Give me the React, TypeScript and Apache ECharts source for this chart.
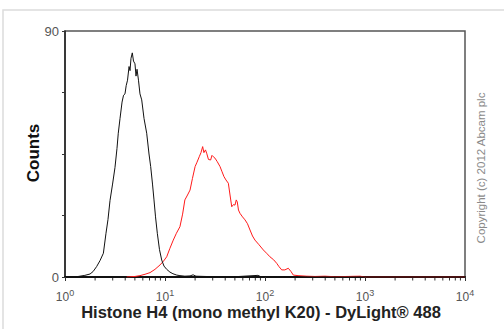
import React, { useEffect, useRef } from "react";
import * as echarts from "echarts";

// Fluorescence intensity (x, log scale) and counts (y)
const blackX = [1.26, 1.41, 1.58, 1.78, 1.91, 2.07, 2.24, 2.42, 2.57, 2.69, 2.82, 2.99, 3.16, 3.31, 3.41, 3.55, 3.72, 3.85, 3.98, 4.09, 4.22, 4.37, 4.47, 4.57, 4.71, 4.84, 5.01, 5.13, 5.25, 5.43, 5.62, 5.85, 6.17, 6.56, 6.92, 7.19, 7.5, 7.76, 8.04, 8.38, 8.81, 9.27, 9.77, 10.4, 11.2, 12.0, 13.1, 14.1, 15.8, 17.8, 19.1, 20.4, 25.1, 31.6, 50, 85, 91, 158, 316, 1000, 10000];
const blackY = [0, 0.3, 0.6, 1.1, 2.0, 3.8, 6.0, 8.7, 16, 21, 28, 34, 40, 47, 52.6, 58, 64, 66.5, 67, 70, 72, 77, 75.5, 80, 82, 79, 78, 73.5, 76, 72, 67, 64.8, 58, 52.6, 45, 40.4, 34, 28.2, 22, 16, 10, 6.2, 4, 2.8, 1.8, 1.2, 0.7, 0.5, 0.3, 0.4, 0.8, 0.3, 0.2, 0.1, 0.1, 0.6, 0.1, 0, 0, 0, 0];

const redX = [4.14, 5.01, 5.62, 6.31, 7.08, 7.94, 8.91, 9.66, 10.4, 11.2, 12.1, 13.0, 14.1, 15.0, 15.8, 16.8, 17.8, 18.8, 20.0, 20.9, 22.0, 22.9, 23.8, 24.5, 25.4, 26.1, 27.2, 28.6, 29.5, 30.4, 31.6, 33.3, 35.5, 37.2, 38.9, 40.7, 43.0, 44.7, 46.5, 48.4, 50.1, 51.6, 52.8, 54.3, 56.2, 59.6, 63.1, 66.8, 70.8, 75.0, 79.4, 87.1, 96.2, 105, 112, 122, 131, 138, 147, 158, 171, 182, 192, 214, 261, 316, 398, 501, 891, 1000, 1585, 10000];
const redY = [0, 0.2, 0.5, 1.0, 1.6, 2.8, 4.4, 5.8, 7.4, 10.5, 13.5, 16, 18.4, 23, 28.2, 30, 31.8, 36, 40.4, 42, 44, 45.5, 47.7, 45.5, 46.5, 45.3, 43, 42.8, 44.5, 44, 43.5, 42.2, 40.4, 38.5, 36.7, 35.5, 34.3, 30, 25.7, 26.5, 26.3, 28.2, 27.5, 24.5, 23.3, 22, 20.9, 19.5, 17.2, 15, 13.5, 11.8, 9.9, 8.5, 7.4, 6.3, 5, 3.8, 2.6, 2.6, 3.2, 2.0, 0.7, 0.5, 0.3, 0.2, 0.3, 0.1, 0.3, 0, 0, 0];

const xTickExponents = ["0", "1", "2", "3", "4"];
const yTickLabels = ["0", "90"];
const minorMultipliers = [2, 3, 4, 5, 6, 7, 8, 9];
const decades = [1, 10, 100, 1000];

const xTitle = "Histone H4 (mono methyl K20) - DyLight® 488";
const yTitle = "Counts";
const copyright = "Copyright (c) 2012 Abcam plc";

export default function App() {
  const ref = useRef<HTMLDivElement>(null);
  useEffect(() => {
    if (!ref.current) return;
    const chart = echarts.init(ref.current, null, { renderer: "svg" });
    const minorTicks: number[][] = [];
    decades.forEach((d) => minorMultipliers.forEach((m) => minorTicks.push([d * m, 0])));
    chart.setOption({
      animation: false,
      backgroundColor: "#fff",
      grid: {
        left: 65,
        right: 39,
        top: 31,
        bottom: 52,
        show: true,
        borderColor: "#555",
        borderWidth: 1.5,
      },
      xAxis: {
        type: "log",
        logBase: 10,
        min: 1,
        max: 10000,
        axisLine: { show: true, onZero: false, lineStyle: { color: "#111", width: 2 } },
        axisTick: { show: true, length: 4, lineStyle: { color: "#333" } },
        splitLine: { show: false },
        axisLabel: {
          margin: 11,
          formatter: (v: number) => {
            const i = Math.round(Math.log10(v));
            return `{b|10}{s|${xTickExponents[i]}}`;
          },
          rich: {
            b: { fontFamily: "Liberation Sans, Arial", fontSize: 12, color: "#555" },
            s: { fontFamily: "Liberation Sans, Arial", fontSize: 9, color: "#555", padding: [0, 0, 9, 0] },
          },
        },
      },
      yAxis: {
        type: "value",
        min: 0,
        max: 90,
        interval: 22.5,
        axisLine: { show: true, lineStyle: { color: "#222", width: 1.5 } },
        axisTick: { show: true, length: 3, lineStyle: { color: "#333" } },
        splitLine: { show: false },
        axisLabel: {
          margin: 6,
          color: "#555",
          fontFamily: "Liberation Sans, Arial",
          fontSize: 13,
          formatter: (v: number) => (v === 0 ? yTickLabels[0] : v === 90 ? yTickLabels[1] : ""),
        },
      },
      series: [
        {
          type: "line",
          data: blackX.map((x, i) => [x, blackY[i]]),
          showSymbol: false,
          lineStyle: { color: "#111", width: 1 },
          z: 3,
        },
        {
          type: "line",
          data: redX.map((x, i) => [x, redY[i]]),
          showSymbol: false,
          lineStyle: { color: "#ff1a1a", width: 1 },
          z: 2,
        },
        {
          type: "custom",
          silent: true,
          clip: false,
          data: minorTicks,
          encode: { x: 0, y: 1 },
          renderItem: (params: any, api: any) => {
            const p = api.coord([api.value(0), 0]);
            return {
              type: "line",
              shape: { x1: p[0], y1: p[1] + 1, x2: p[0], y2: p[1] + 3.5 },
              style: { stroke: "#333", lineWidth: 1 },
            };
          },
        },
      ],
      graphic: [
        {
          type: "rect",
          shape: { x: 3, y: 10, width: 560, height: 400 },
          style: { fill: "none", stroke: "#dcdcdc", lineWidth: 1.5 },
          silent: true,
          z: -1,
        },
        {
          type: "text",
          x: 261,
          y: 312,
          style: {
            text: xTitle,
            fontFamily: "Liberation Sans, Arial",
            fontWeight: "bold",
            fontSize: 16.5,
            fill: "#222",
            align: "center",
            verticalAlign: "middle",
          },
        },
        {
          type: "text",
          x: 33,
          y: 153,
          rotation: Math.PI / 2,
          style: {
            text: yTitle,
            fontFamily: "Liberation Sans, Arial",
            fontWeight: "bold",
            fontSize: 17,
            fill: "#111",
            align: "center",
            verticalAlign: "middle",
          },
        },
        {
          type: "text",
          x: 481,
          y: 168,
          rotation: Math.PI / 2,
          style: {
            text: copyright,
            fontFamily: "Liberation Sans, Arial",
            fontSize: 11.5,
            fill: "#8a8a8a",
            align: "center",
            verticalAlign: "middle",
          },
        },
      ],
    });
    return () => chart.dispose();
  }, []);
  return (
    <div
      ref={ref}
      style={{ position: "absolute", left: 0, top: 0, width: 504, height: 329, background: "#fff" }}
    />
  );
}
